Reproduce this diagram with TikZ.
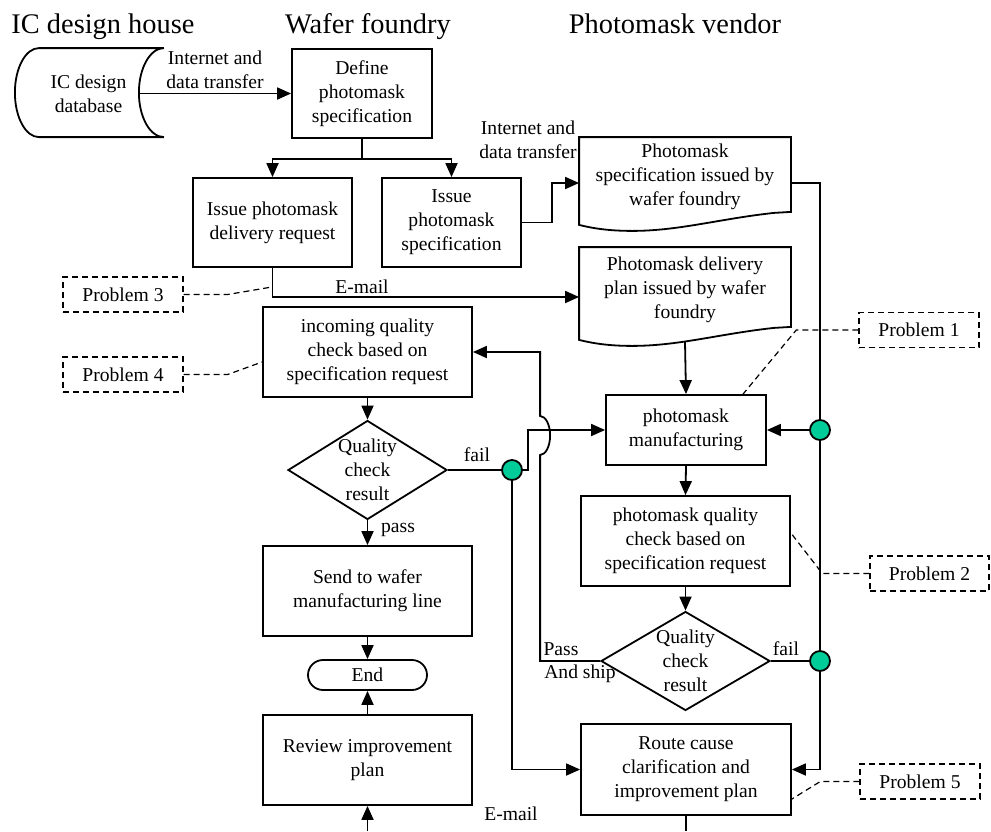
\documentclass[tikz,border=0pt]{standalone}
\usepackage{fontspec}
\setmainfont{Liberation Serif}
\usetikzlibrary{arrows.meta,shapes.geometric,calc}
\definecolor{dotgreen}{RGB}{0,204,153}

\newcommand\docshape[1]{%
  \draw (#1.north west) -- (#1.north east) -- ($(#1.south east)+(0,-5)$)
    -- ($(#1.south east)+(-17,-4)$)
    .. controls ($(#1.south east)+(-72,2)$) and ($(#1.south west)+(100,14)$) .. ($(#1.south west)+(53,14)$)
    .. controls ($(#1.south west)+(28,14)$) and ($(#1.south west)+(12,11)$) .. ($(#1.south west)+(0,8)$)
    -- cycle;}

\begin{document}
\begin{tikzpicture}[x=0.5pt,y=-0.5pt,line width=0.9pt,
  every node/.style={font=\fontsize{9.8pt}{12pt}\selectfont},
  box/.style={draw,align=center,inner sep=0pt,minimum width=104.5pt,minimum height=45pt},
  doc/.style={align=center,inner sep=0pt,minimum width=105pt},
  dec/.style={draw,diamond,inner sep=0pt,minimum width=#1,minimum height=49.5pt,
    label={[align=center]center:Quality\\check\\result}},
  dot/.style={circle,draw,fill=dotgreen,minimum size=10pt,inner sep=0pt},
  prob/.style={draw,line width=0.7pt,dash pattern=on 3pt off 2pt,inner sep=0pt,minimum width=60pt,minimum height=17.5pt},
  lead/.style={line width=0.6pt,dash pattern=on 3pt off 2pt},
  arr/.style={-{Triangle[length=7pt,width=6pt]}},
  hdr/.style={font=\fontsize{14.2pt}{17pt}\selectfont,anchor=base}]
\useasboundingbox (0,0) rectangle (991,831);

\node[hdr] (h1) at (103,33) {IC design house};
\node[hdr] (h2) at (368,33) {Wafer foundry};
\node[hdr] (h3) at (675,33) {Photomask vendor};

\node[align=center,inner sep=0pt,minimum width=74.5pt,minimum height=44.5pt] (db) at (88.5,93.5) {IC design\\database};
\draw (db.north east) -- ++(-125,0) arc[start angle=90,end angle=270,x radius=12pt,y radius=22.25pt]
  -- ++(125,0) arc[start angle=270,end angle=90,x radius=12.5pt,y radius=22.25pt] -- cycle;

\node[box,minimum width=70pt,minimum height=44.5pt] (def) at (362,93.5) {Define\\photomask\\specification};
\node[box,minimum width=79.5pt,minimum height=44.5pt] (req) at (272.5,222.5) {Issue photomask\\delivery request};
\node[box,minimum width=69.5pt,minimum height=44.5pt] (iss) at (451.5,222.5) {Issue\\photomask\\specification};
\node[doc,minimum height=39pt] (spec) at (685,177) {Photomask\\specification issued by\\wafer foundry};
\docshape{spec}
\node[doc,minimum height=41.5pt] (plan) at (685,289.5) {Photomask delivery\\plan issued by wafer\\foundry};
\docshape{plan}
\node[box,minimum width=80pt,minimum height=35pt] (mfg) at (686,430) {photomask\\manufacturing};
\node[box] (pqc) at (685.5,541) {photomask quality\\check based on\\specification request};
\node[dec=84.5pt] (qc2) at (685.5,661) {};
\node[box,minimum width=105pt,minimum height=45.5pt] (rc) at (686,769.5) {Route cause\\clarification and\\improvement plan};

\node[box] (inc) at (367.5,352) {incoming quality\\check based on\\specification request};
\node[dec=79.5pt] (qc1) at (367.5,470) {};
\node[box] (snd) at (367.5,591) {Send to wafer\\manufacturing line};
\node[draw,rounded corners=7.5pt,minimum width=59.5pt,minimum height=15pt,inner sep=0pt] (fin) at (367.5,675) {End};
\node[box] (rev) at (367.5,760) {Review improvement\\plan};

\node[dot] (c1) at (820,430) {};
\node[dot] (c2) at (820,661) {};
\node[dot] (c3) at (512,470) {};

\node[prob] (p1) at (919,330) {Problem 1};
\node[prob,minimum width=59.5pt] (p2) at (929.5,573.5) {Problem 2};
\node[prob] (p3) at (123,294.5) {Problem 3};
\node[prob] (p4) at (123,374.5) {Problem 4};
\node[prob] (p5) at (920,781.5) {Problem 5};

\coordinate (b1) at (367.5,831);
\coordinate (b2) at (686,831);

\node[align=center] (l1) at (215,70) {Internet and\\data transfer};
\node[align=center] (l2) at (528,140) {Internet and\\data transfer};
\node (l3) at (362,287) {E-mail};
\node (l4) at (477,455) {fail};
\node (l5) at (398,530) {pass};
\node (l6) at (561,649) {Pass};
\node (l7) at (580,674) {And ship};
\node (l8) at (786,649) {fail};
\node (l9) at (511,814) {E-mail};

\draw[arr] ([xshift=-12.5pt]db.east) -- (def.west);
\draw[arr] (def.south) -- ++(0,20) -| (req.north);
\draw[arr] (def.south) -- ++(0,20) -| (iss.north);
\draw[arr] (iss.east) -- ++(30,0) |- ([yshift=-3pt]spec.west);
\draw[arr] (req.south) |- ([yshift=-3.75pt]plan.west);
\draw[arr] ([yshift=-5pt]plan.south) -- (mfg.north);
\draw ([yshift=-3pt]spec.east) -| (c1.north);
\draw[arr] (c1.west) -- (mfg.east);
\draw (c1.south) -- (c2.north);
\draw[arr] (mfg.south) -- (pqc.north);
\draw[arr] (pqc.south) -- (qc2.north);
\draw (qc2.east) -- (c2.west);
\draw[arr] (c2.south) |- (rc.east);
\draw[arr] (qc2.west) -- ++(-60,0) -- ++(0,-206)
  arc[start angle=-90,end angle=90,x radius=5pt,y radius=9.75pt] |- (inc.east);
\draw[arr] (inc.south) -- (qc1.north);
\draw (qc1.east) -- (c3.west);
\draw[arr] (c3.east) -- ++(5,0) |- (mfg.west);
\draw[arr] (c3.south) |- (rc.west);
\draw[arr] (qc1.south) -- (snd.north);
\draw[arr] (snd.south) -- (fin.north);
\draw[arr] (rev.north) -- (fin.south);
\draw[arr] (b1) -- (rev.south);
\draw (rc.south) -- (b2);

\draw[lead] (p1.west) -- ++(-62,0) -- ([xshift=28.5pt]mfg.north);
\draw[lead] (p2.west) -- ++(-47,0) -- ([yshift=4pt]pqc.east);
\draw[lead] (p3.east) -- ++(44,0) -- ([yshift=-9.5pt]req.south);
\draw[lead] (p4.east) -- ++(44,0) -- ([yshift=-5pt]inc.west);
\draw[lead] (p5.west) -- ++(-39,0) -- ([yshift=-14.75pt]rc.east);
\end{tikzpicture}
\end{document}
